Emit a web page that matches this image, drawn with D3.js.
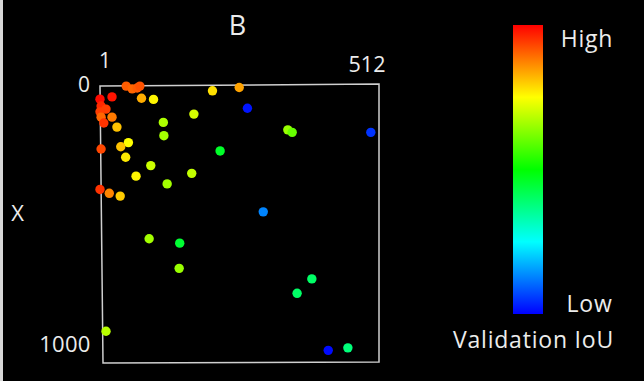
<!DOCTYPE html>
<html>
<head>
<meta charset="utf-8">
<script src="https://cdn.jsdelivr.net/npm/d3@7"></script>
<style>
	html, body { margin: 0; padding: 0; background: #000; }
	svg { display: block; }
	text { font-family: 'Open Sans', 'Noto Sans', sans-serif; fill: #ececec; }
</style>
</head>
<body>
<div id="chart"></div>
<script>
	'use strict';

	// position in the image (x: 1..512, y: 0..1000) and validation IoU (0 low .. 1 high)
	var pointX = [
		49, 60, 69, 74, 207, 256, 1, 23, 3, 12,
		1, 3, 23, 8, 32, 77, 99, 117, 173, 118,
		53, 39, 221, 3, 48, 94, 169, 67, 124, 1,
		18, 38, 271, 345, 353, 497, 300, 91, 147, 146,
		12, 389, 362, 419, 455
	];
	var pointY = [
		4, 14, 11, 4, 21, 9, 51, 43, 76, 87,
		97, 116, 116, 137, 152, 48, 52, 135, 105, 183,
		208, 223, 238, 231, 261, 291, 319, 329, 357, 377,
		391, 401, 84, 162, 171, 171, 458, 555, 571, 662,
		889, 700, 752, 958, 949
	];
	var pointIoU = [
		0.91, 0.90, 0.91, 0.92, 0.78, 0.84, 0.99, 0.98, 0.96, 0.94,
		0.94, 0.90, 0.88, 0.95, 0.81, 0.83, 0.76, 0.67, 0.71, 0.66,
		0.75, 0.81, 0.46, 0.93, 0.77, 0.70, 0.69, 0.76, 0.66, 0.95,
		0.87, 0.80, 0.02, 0.65, 0.60, 0.05, 0.13, 0.66, 0.45, 0.65,
		0.68, 0.40, 0.40, 0.01, 0.38
	];

	var xTicks = [1, 512];
	var yTicks = [0, 1000];
	var legendLabels = ['High', 'Low'];

	var width = 644,
			height = 381;

	function iouColour (v)	{
		return d3.hsl(240 * (1 - v), 1, 0.5).toString();
	};

	function label (text, px, py, size, spacing)	{
		return svg.append('text').text(text)
							.attr('x', px).attr('y', py)
							.attr('text-anchor', 'middle')
							.style('font-size', size + 'px')
							.style('letter-spacing', (spacing || 0) + 'px');
	};

	var svg = d3.select('#chart').append('svg')
							.attr('width', width)
							.attr('height', height);

	svg.append('rect')
		 .attr('x', 0).attr('y', 0)
		 .attr('width', 3).attr('height', height)
		 .style('fill', '#d8d8d8');

	var x = d3.scaleLinear().domain([1, 512]).range([100, 379]),
			y = d3.scaleLinear().domain([0, 1000]).range([85, 362]);

	// slightly skewed frame, as in the photographed figure
	var frame = d3.path();
	frame.moveTo(x(1), y(0) + 1);
	frame.lineTo(x(512), y(0) - 1);
	frame.lineTo(x(512), y(1000));
	frame.lineTo(x(1) + 3, y(1000) + 1);
	frame.closePath();

	svg.append('path')
		 .attr('d', frame.toString())
		 .style('fill', 'none')
		 .style('stroke', '#cfcfcf')
		 .style('stroke-width', 1.5);

	var points = pointX.map(function (d, i)	{
		return { x: d, y: pointY[i], v: pointIoU[i] };
	});

	svg.append('g')
		 .selectAll('circle')
		 .data(points)
		 .join('circle')
		 .attr('cx', function (d) { return x(d.x); })
		 .attr('cy', function (d) { return y(d.y); })
		 .attr('r', 4.7)
		 .style('fill', function (d) { return iouColour(d.v); });

	// axis end labels
	label(xTicks[0], x(xTicks[0]) + 5, y(0) - 17, 21);
	label(xTicks[1], x(xTicks[1]) - 12, y(0) - 13, 21.5);
	label(yTicks[0], x(1) - 16, y(yTicks[0]) + 7, 21);
	label(yTicks[1], x(1) - 35, y(yTicks[1]) - 10, 22, 0.3);

	label('X', 17.5, 221, 22);
	label('B', 237.5, 35, 27);

	// colour bar
	var bar = { x: 513, y: 25, w: 30, h: 289 };
	var defs = svg.append('defs');
	var grad = defs.append('linearGradient')
								 .attr('id', 'iou_gradient')
								 .attr('x1', '0').attr('y1', '0')
								 .attr('x2', '0').attr('y2', '100%');

	[1, 0.75, 0.5, 0.25, 0].forEach(function (v, i)	{
		grad.append('stop')
				.attr('offset', (i * 25) + '%')
				.attr('stop-color', iouColour(v));
	});

	svg.append('rect')
		 .attr('x', bar.x).attr('y', bar.y)
		 .attr('width', bar.w).attr('height', bar.h)
		 .style('fill', 'url(#iou_gradient)');

	var barScale = d3.scaleLinear().domain([1, 0]).range([bar.y, bar.y + bar.h]);

	label(legendLabels[0], 587, barScale(1) + 22, 23, 0.8);
	label(legendLabels[1], 589.5, barScale(0) - 2, 23, 0.8);
	label('Validation IoU', 533.5, 348, 23, 0.8);
</script>
</body>
</html>
